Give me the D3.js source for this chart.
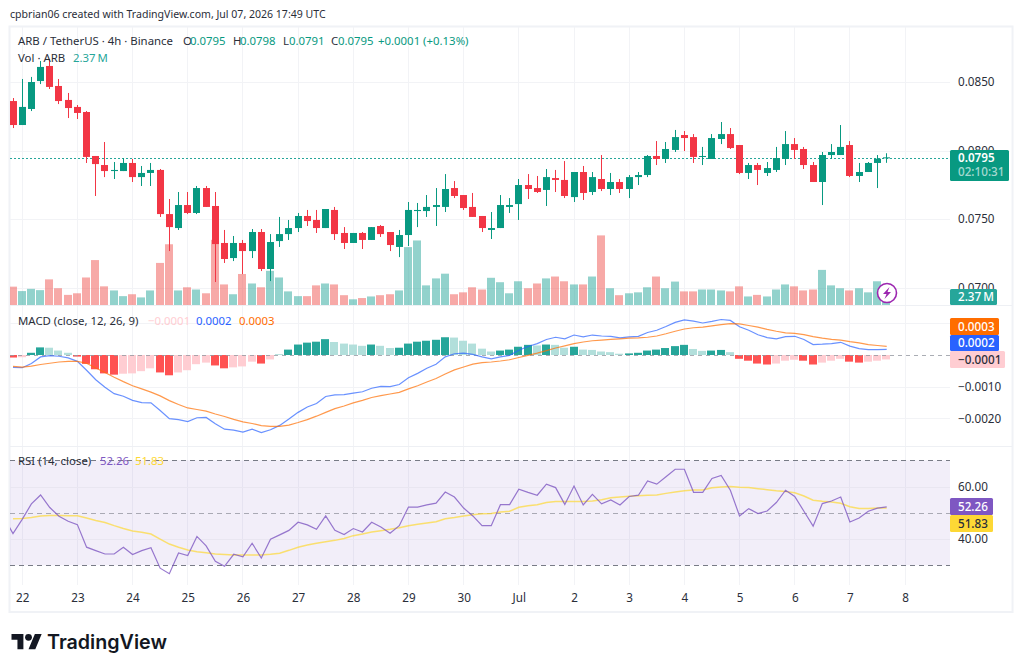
<!DOCTYPE html>
<html>
<head>
<meta charset="utf-8">
<title>ARB / TetherUS 4h</title>
<script src="https://cdn.jsdelivr.net/npm/d3@7/dist/d3.min.js"></script>
<style>
  html, body { margin: 0; padding: 0; background: #fff; }
  svg { display: block; }
  text { font-family: "Noto Sans", sans-serif; }
</style>
</head>
<body>
<svg id="chart" width="1024" height="672"></svg>
<script>
// 4h candles, prices in USDT
const opens = [0.08361,0.08186,0.08303,0.08507,0.08617,0.08471,0.08369,0.08318,0.08281,0.07960,0.07894,0.07850,0.07850,0.07909,0.07806,0.07836,0.07858,0.07536,0.07434,0.07602,0.07544,0.07726,0.07595,0.07325,0.07215,0.07325,0.07266,0.07405,0.07135,0.07339,0.07390,0.07434,0.07522,0.07493,0.07434,0.07566,0.07398,0.07325,0.07398,0.07347,0.07449,0.07405,0.07296,0.07383,0.07558,0.07558,0.07588,0.07588,0.07726,0.07675,0.07588,0.07522,0.07420,0.07434,0.07588,0.07609,0.07748,0.07726,0.07712,0.07799,0.07785,0.07660,0.07843,0.07697,0.07792,0.07719,0.07770,0.07719,0.07806,0.07821,0.07960,0.07938,0.08004,0.08113,0.08098,0.07953,0.07938,0.08084,0.08120,0.08040,0.07836,0.07894,0.07836,0.07858,0.07938,0.08047,0.08011,0.07894,0.07770,0.07967,0.07967,0.08040,0.07814,0.07843,0.07909,0.0795];
const highs = [0.08383,0.08522,0.08537,0.08653,0.08668,0.08522,0.08420,0.08332,0.08288,0.07960,0.08062,0.07916,0.07945,0.07938,0.07887,0.07909,0.07865,0.07646,0.07697,0.07697,0.07741,0.07741,0.07697,0.07420,0.07376,0.07347,0.07427,0.07427,0.07390,0.07515,0.07493,0.07544,0.07566,0.07566,0.07573,0.07588,0.07441,0.07398,0.07405,0.07441,0.07456,0.07405,0.07420,0.07624,0.07617,0.07675,0.07726,0.07828,0.07777,0.07675,0.07690,0.07522,0.07551,0.07675,0.07653,0.07792,0.07828,0.07814,0.07865,0.07858,0.07923,0.07843,0.07887,0.07843,0.07967,0.07836,0.07792,0.07821,0.07843,0.07967,0.08069,0.08062,0.08150,0.08142,0.08120,0.08026,0.08120,0.08208,0.08164,0.08040,0.07909,0.07909,0.07916,0.08026,0.08142,0.08091,0.08026,0.07916,0.07989,0.08047,0.08186,0.08069,0.07909,0.07916,0.07967,0.0798];
const lows = [0.08164,0.08186,0.08288,0.08485,0.08449,0.08339,0.08237,0.08230,0.07909,0.07668,0.07806,0.07792,0.07850,0.07770,0.07741,0.07741,0.07515,0.07266,0.07420,0.07536,0.07536,0.07588,0.07040,0.07179,0.07193,0.07098,0.07215,0.07120,0.07047,0.07296,0.07347,0.07405,0.07449,0.07398,0.07434,0.07347,0.07281,0.07325,0.07281,0.07347,0.07369,0.07266,0.07222,0.07303,0.07441,0.07515,0.07449,0.07551,0.07653,0.07566,0.07515,0.07405,0.07354,0.07434,0.07544,0.07493,0.07646,0.07690,0.07595,0.07697,0.07653,0.07624,0.07639,0.07675,0.07704,0.07675,0.07690,0.07653,0.07748,0.07806,0.07894,0.07909,0.07989,0.07996,0.07909,0.07894,0.07938,0.08047,0.08011,0.07828,0.07792,0.07748,0.07814,0.07843,0.07894,0.07938,0.07865,0.07770,0.07602,0.07938,0.07967,0.07806,0.07770,0.07843,0.07726,0.0791];
const closes = [0.08186,0.08318,0.08500,0.08610,0.08464,0.08361,0.08310,0.08274,0.07953,0.07901,0.07850,0.07858,0.07909,0.07806,0.07836,0.07858,0.07536,0.07441,0.07602,0.07544,0.07726,0.07588,0.07317,0.07208,0.07325,0.07266,0.07405,0.07135,0.07332,0.07390,0.07434,0.07522,0.07485,0.07434,0.07573,0.07390,0.07325,0.07398,0.07347,0.07441,0.07390,0.07310,0.07383,0.07566,0.07566,0.07588,0.07602,0.07719,0.07668,0.07580,0.07515,0.07434,0.07434,0.07602,0.07602,0.07748,0.07719,0.07697,0.07806,0.07785,0.07668,0.07843,0.07690,0.07806,0.07719,0.07770,0.07719,0.07806,0.07821,0.07960,0.07938,0.08011,0.08098,0.08091,0.07953,0.07960,0.08091,0.08120,0.08018,0.07836,0.07894,0.07858,0.07872,0.07945,0.08047,0.08004,0.07894,0.07770,0.07967,0.07989,0.08026,0.07814,0.07843,0.07909,0.07940,0.0795];
// traded volume, millions of ARB
const volume = [5.8,4.4,5.1,4.7,8.1,5.3,3.2,3.7,8.7,14.2,5.9,4.6,2.8,3.4,2.4,4.6,13.3,19.2,4.6,5.6,4.9,3.7,20.6,6.5,3.4,9.8,6.8,5.6,10.8,8.7,4.3,2.8,2.8,6.2,6.8,6.5,3.1,1.8,2.2,2.7,3.1,3.4,4.6,18.3,20.4,6.2,8.4,9.9,3.4,4.0,5.6,4.9,8.6,7.2,3.7,7.5,5.3,6.8,8.4,9.0,7.5,6.5,6.5,9.0,22.0,5.3,3.1,3.7,4.0,5.6,9.0,5.3,7.4,4.3,4.3,4.9,4.9,4.6,4.3,5.9,2.7,3.2,2.7,4.9,6.5,5.9,4.6,4.9,11.1,6.2,5.3,4.6,5.3,4.0,7.5,2.37];
// MACD (12, 26, 9), in units of 0.00001
const macdLine = [-39,-40,-27,-6,-2,-4,-9,-20,-48,-78,-102,-122,-130,-143,-150,-151,-175,-201,-204,-210,-198,-197,-217,-234,-237,-243,-234,-245,-236,-222,-202,-181,-164,-153,-131,-126,-125,-120,-116,-105,-99,-100,-93,-72,-58,-42,-29,-6,4,6,2,-6,-12,-6,-1,15,27,36,49,56,51,63,57,63,60,59,54,57,59,71,78,90,103,111,107,101,106,112,109,89,78,64,55,51,58,59,49,33,34,36,40,28,20,17,17,18];
const macdSignal = [-36,-38,-35,-30,-26,-22,-20,-20,-26,-41,-55,-70,-84,-97,-107,-117,-129,-144,-156,-167,-172,-177,-186,-194,-203,-211,-216,-223,-225,-225,-221,-213,-204,-193,-181,-169,-161,-151,-143,-134,-128,-123,-118,-107,-97,-85,-74,-60,-47,-38,-29,-24,-22,-19,-15,-8,-1,6,14,22,29,36,41,45,47,49,51,53,54,56,60,67,75,82,86,88,92,96,99,98,93,88,81,75,70,68,64,58,53,49,47,42,38,33,30,27];
const macdHist = [-8,-7,7,24,23,14,7,-5,-28,-45,-58,-62,-59,-58,-51,-42,-55,-64,-55,-48,-29,-24,-33,-42,-39,-36,-21,-27,-14,1,17,33,39,42,50,41,36,33,29,33,29,22,23,36,42,45,48,56,55,45,36,20,11,14,17,26,32,30,33,32,23,26,17,16,11,9,4,5,7,14,17,22,28,32,19,13,14,16,9,-12,-18,-27,-30,-27,-18,-15,-18,-30,-24,-18,-12,-21,-24,-21,-18,-14];
// RSI (14); the first reading belongs to the bar just left of the visible range
const rsi = [48.3,42.1,47.5,53.4,56.8,52.0,48.7,46.8,45.5,36.9,35.6,34.3,34.3,36.9,34.1,35.6,36.7,28.9,26.8,34.7,33.7,41.0,37.4,31.5,29.6,34.2,33.2,38.4,32.8,39.9,41.6,43.3,46.4,45.4,43.7,48.8,43.3,41.7,44.0,42.7,46.4,44.6,42.2,45.1,52.2,52.2,53.0,53.7,57.9,56.0,51.8,48.8,45.1,45.1,53.1,53.1,59.0,57.8,56.7,60.9,59.6,53.2,60.2,53.0,57.0,53.4,54.9,53.0,56.2,56.7,62.1,60.9,63.7,66.6,66.6,57.8,57.8,63.1,64.2,58.6,48.8,51.6,49.7,50.7,53.9,58.6,56.2,50.6,44.9,53.5,54.5,56.0,46.5,48.0,50.6,51.8,52.26];
const rsiAverage = [47.7,47.8,48.2,48.8,49.0,49.0,48.9,48.9,48.0,47.1,46.3,45.1,44.0,43.1,42.6,41.9,40.0,38.1,36.9,35.8,35.2,34.8,34.3,34.1,33.9,33.9,33.9,33.9,34.2,34.6,35.7,36.9,37.7,38.4,39.0,39.5,40.2,41.3,41.9,42.7,43.2,43.7,44.3,45.1,45.6,46.1,46.6,47.7,48.2,48.8,49.3,49.6,49.7,50.3,50.6,52.1,52.7,53.1,53.9,54.3,54.3,54.3,54.3,54.5,55.0,55.7,56.0,56.3,56.5,56.7,56.8,57.4,57.9,58.4,58.7,58.7,59.5,59.8,60.0,59.7,59.6,59.2,58.8,58.4,58.1,57.6,56.4,54.8,54.4,54.1,53.6,52.3,51.6,51.6,51.8,51.83];

const dayLabels = ["22","23","24","25","26","27","28","29","30","Jul","2","3","4","5","6","7","8"];
const priceTicks = [0.085, 0.08, 0.075, 0.07];
const macdTicks = [-0.001, -0.002];
const macdGrid = [0.001, -0.001, -0.002];
const rsiTicks = [60, 40];
const lastPrice = 0.0795;
const barsPerDay = 6;

const UP = "#089981", DOWN = "#f23645";
const GRID = "#f2f3f6", INK = "#2a2e39";
const paneLeft = 10, paneRight = 950, paneTop = 27, paneBottom = 585;

const svg = d3.select("#chart");

// Shared bar position: one slot per 4h candle; wicks land on whole pixels
const x = d3.scaleLinear().domain([0, 95]).range([13, 886.7]);
const snap = i => Math.round(x(i) - 0.5);

const yPrice = d3.scaleLinear().domain([0.085, 0.07]).range([82, 287.5]);
const yVol = d3.scaleLinear().domain([0, 22]).range([305, 235.4]);
const yMacd = d3.scaleLinear().domain([0, -0.002]).range([355, 418.4]);
const yRsi = d3.scaleLinear().domain([70, 30]).range([460.3, 565.3]);

const idx = d3.range(opens.length);
const dayIndex = dayLabels.map((_, k) => 1 + k * barsPerDay);

// Frame
svg.append("rect").attr("x", 9.5).attr("y", 26.5).attr("width", 1003).attr("height", 585.5)
  .attr("fill", "#fff").attr("stroke", "#f0f2f6").attr("stroke-width", 2);
svg.append("clipPath").attr("id", "plot").append("rect")
  .attr("x", paneLeft).attr("y", paneTop).attr("width", paneRight - paneLeft).attr("height", paneBottom - paneTop);

const plot = svg.append("g").attr("clip-path", "url(#plot)");

// Grid
const hLine = (g, y, stroke) => g.append("line").attr("x1", paneLeft).attr("x2", paneRight)
  .attr("y1", Math.round(y) + .5).attr("y2", Math.round(y) + .5).attr("stroke", stroke);
plot.append("g").selectAll("line").data(dayIndex).join("line")
  .attr("x1", i => snap(i) + .5).attr("x2", i => snap(i) + .5)
  .attr("y1", paneTop).attr("y2", paneBottom).attr("stroke", GRID);
priceTicks.forEach(t => hLine(plot, yPrice(t), GRID));
macdGrid.forEach(t => hLine(plot, yMacd(t), GRID));

// RSI band, drawn under the pane separators
plot.append("rect").attr("x", paneLeft).attr("width", paneRight - paneLeft)
  .attr("y", yRsi(70)).attr("height", yRsi(30) - yRsi(70))
  .attr("fill", "#7e57c2").attr("fill-opacity", 0.1);
rsiTicks.forEach(t => hLine(plot, yRsi(t), "#e9e6f1"));

// Pane separators
[305, 446].forEach(y => svg.append("line").attr("x1", paneLeft).attr("x2", 1012)
  .attr("y1", y + .5).attr("y2", y + .5).attr("stroke", "#eef0f4"));

// Volume
plot.append("g").selectAll("rect").data(idx).join("rect")
  .attr("x", i => snap(i) - 4).attr("width", 8)
  .attr("y", i => yVol(volume[i])).attr("height", i => yVol(0) - yVol(volume[i]))
  .attr("fill", i => closes[i] >= opens[i] ? "#26a69a" : "#ef5350")
  .attr("fill-opacity", 0.5);

// Last price line
hLine(plot, Math.ceil(yPrice(lastPrice)), "#26a69a").attr("stroke-dasharray", "2 2");

// Candles
const candles = plot.append("g").selectAll("g").data(idx).join("g")
  .attr("fill", i => closes[i] >= opens[i] ? UP : DOWN)
  .attr("stroke", "none");
candles.append("rect").attr("x", i => snap(i)).attr("width", 1)
  .attr("y", i => yPrice(highs[i])).attr("height", i => yPrice(lows[i]) - yPrice(highs[i]));
candles.append("rect").attr("x", i => snap(i) - 3).attr("width", 7)
  .attr("y", i => yPrice(Math.max(opens[i], closes[i])))
  .attr("height", i => Math.max(1, Math.abs(yPrice(opens[i]) - yPrice(closes[i]))));

// MACD histogram: shade follows the direction of change
const histColor = (v, i) => {
  const rising = i > 0 && v > macdHist[i - 1];
  if (v >= 0) return rising ? "#26a69a" : "#b2dfdb";
  return (i === 0 || !rising) ? "#ff5252" : "#ffcdd2";
};
plot.append("g").selectAll("rect").data(macdHist).join("rect")
  .attr("x", (v, i) => snap(i) - 4).attr("width", 8)
  .attr("y", v => yMacd(Math.max(v * 1e-5, 0)))
  .attr("height", v => Math.abs(yMacd(v * 1e-5) - yMacd(0)))
  .attr("fill", histColor);
hLine(plot, yMacd(0), "#9598a1").attr("stroke-dasharray", "4 4").attr("stroke-opacity", 0.8);

const pathOf = (vals, y, start = 0) => d3.line().x((v, i) => x(i + start)).y(v => y(v))(vals);
const macdY = v => yMacd(v * 1e-5);
plot.append("path").attr("d", pathOf(macdLine, macdY)).attr("fill", "none")
  .attr("stroke", "#2962ff").attr("stroke-opacity", 0.7).attr("stroke-width", 1.2);
plot.append("path").attr("d", pathOf(macdSignal, macdY)).attr("fill", "none")
  .attr("stroke", "#ff6d00").attr("stroke-opacity", 0.7).attr("stroke-width", 1.2);

// RSI reference levels and lines
[[70, "#787b86", 1], [50, "#787b86", 0.6], [30, "#787b86", 1]].forEach(([v, c, o]) =>
  hLine(plot, yRsi(v), c).attr("stroke-dasharray", "5 4").attr("stroke-opacity", o));
plot.append("path").attr("d", pathOf(rsiAverage, yRsi)).attr("fill", "none")
  .attr("stroke", "#fdd835").attr("stroke-opacity", 0.7).attr("stroke-width", 1.5);
plot.append("path").attr("d", pathOf(rsi, yRsi, -1)).attr("fill", "none")
  .attr("stroke", "#7e57c2").attr("stroke-opacity", 0.8).attr("stroke-width", 1.2);

// Value axes on the right
const styleAxis = g => {
  g.select(".domain").remove();
  g.selectAll("text").attr("fill", INK).style("font-size", "11.7px");
};
svg.append("g").attr("transform", "translate(950,0)")
  .call(d3.axisRight(yPrice).tickValues(priceTicks).tickSize(0).tickPadding(8).tickFormat(d3.format(".4f")))
  .call(styleAxis);
svg.append("g").attr("transform", "translate(950,0)")
  .call(d3.axisRight(yMacd).tickValues(macdTicks).tickSize(0).tickPadding(8)
    .tickFormat(v => "\u2212" + d3.format(".4f")(Math.abs(v))))
  .call(styleAxis);
svg.append("g").attr("transform", "translate(950,0)")
  .call(d3.axisRight(yRsi).tickValues(rsiTicks).tickSize(0).tickPadding(8).tickFormat(d3.format(".2f")))
  .call(styleAxis);

// Day axis
const xAxis = svg.append("g").attr("transform", "translate(0,594)")
  .call(d3.axisBottom(x).tickValues(dayIndex).tickSize(0).tickPadding(0)
    .tickFormat((d, k) => dayLabels[k]));
xAxis.call(styleAxis);

// Value tags on the axis
function tag(xl, yt, w, h, fill, lines) {
  svg.append("rect").attr("x", xl).attr("y", yt).attr("width", w).attr("height", h)
    .attr("rx", 1.5).attr("fill", fill);
  lines.forEach(l => svg.append("text").attr("x", 958).attr("y", l.y)
    .attr("fill", l.color).attr("fill-opacity", l.o || 1)
    .style("font-size", "11.7px").style("font-weight", l.w || 500).text(l.t));
}
tag(950, 150, 59, 31, UP, [
  { t: lastPrice.toFixed(4), y: 162, color: "#fff", w: 600 },
  { t: "02:10:31", y: 176, color: "#fff", o: 0.65 }]);
tag(950, 289, 47, 16, "#26a69a", [{ t: "2.37\u202fM", y: 301, color: "#fff" }]);
tag(950, 318, 49, 17, "#ff6d00", [{ t: "0.0003", y: 331, color: "#fff" }]);
tag(950, 335, 49, 16, "#2962ff", [{ t: "0.0002", y: 347, color: "#fff" }]);
tag(950, 351, 55, 17, "#ffcdd2", [{ t: "\u22120.0001", y: 364, color: INK }]);
tag(950, 498, 43, 17, "#7e57c2", [{ t: "52.26", y: 511, color: "#fff" }]);
tag(950, 515, 43, 17, "#fdd835", [{ t: "51.83", y: 528, color: INK }]);

// Header and pane legends
const legend = (items, y) => items.forEach(([t, px, color]) =>
  svg.append("text").attr("x", px).attr("y", y).attr("fill", color)
    .style("font-size", "11.4px").text(t));
svg.append("text").attr("x", 10).attr("y", 18).attr("fill", INK)
  .style("font-size", "10.55px").text("cpbrian06 created with TradingView.com, Jul 07, 2026 17:49 UTC");
legend([["ARB / TetherUS \u00b7 4h \u00b7 Binance", 18, INK],
  ["O", 183, INK], ["0.0795", 190, UP], ["H", 233, INK], ["0.0798", 240, UP],
  ["L", 283, INK], ["0.0791", 289, UP], ["C", 331, INK], ["0.0795", 338, UP],
  ["+0.0001 (+0.13%)", 378, UP]], 45);
legend([["Vol \u00b7 ARB", 18, INK], ["2.37\u202fM", 73, "#26a69a"]], 62);
legend([["MACD (close, 12, 26, 9)", 18, INK], ["\u22120.0001", 148, "#ffcdd2"],
  ["0.0002", 196, "#2962ff"], ["0.0003", 239, "#ff6d00"]], 325);
legend([["RSI (14, close)", 18, INK], ["52.26", 100, "#7e57c2"], ["51.83", 135, "#fdd835"]], 465);

// Lightning badge on the last volume bar
const badge = svg.append("g").attr("transform", "translate(887,293)");
badge.append("circle").attr("r", 9.5).attr("fill", "#fff").attr("stroke", "#9c27b0").attr("stroke-width", 1.6);
badge.append("path").attr("d", "M2.5 -6 L-4 1 L-0.5 1 L-2.5 6 L4 -1 L0.5 -1 Z").attr("fill", "#9c27b0");

// Brand mark
const logo = svg.append("g").attr("transform", "translate(11.5,630.5) scale(0.85)").attr("fill", "#131722");
logo.append("path").attr("d", "M14 22H7V11H0V4h14v18zM28 22h-8l7.5-18h8L28 22z");
logo.append("circle").attr("cx", 20).attr("cy", 8).attr("r", 4);
svg.append("text").attr("x", 47).attr("y", 649).attr("fill", "#131722")
  .style("font-family", "Inter, sans-serif").style("font-size", "19.7px").style("font-weight", 600)
  .text("TradingView");
</script>
</body>
</html>
